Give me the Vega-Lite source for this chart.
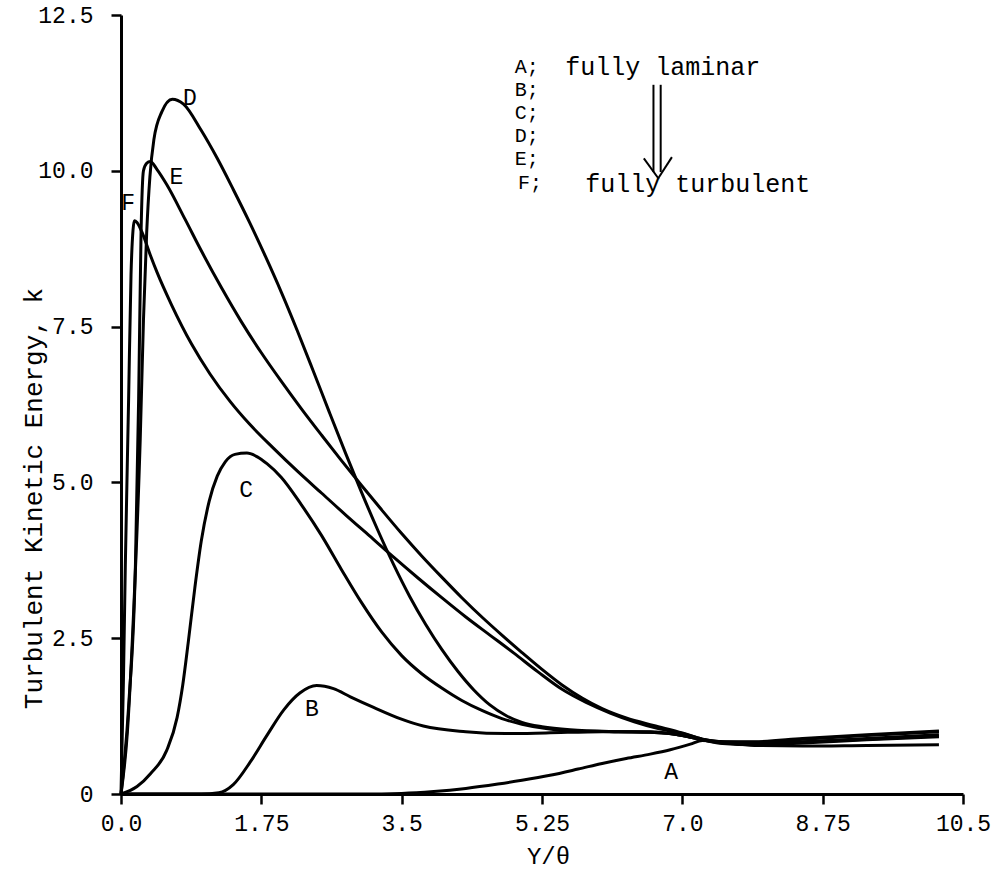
{
  "$schema": "https://vega.github.io/schema/vega-lite/v6.json",
  "width": 842,
  "height": 779,
  "autosize": {"type": "none"},
  "padding": {"left": 121, "top": 15, "right": 33, "bottom": 77},
  "background": "white",
  "config": {
    "font": "Liberation Mono",
    "view": {"stroke": null},
    "axis": {
      "grid": false,
      "domainColor": "black",
      "domainWidth": 3,
      "tickColor": "black",
      "tickWidth": 2.5,
      "tickSize": 10,
      "labelColor": "black",
      "titleColor": "black",
      "labelFont": "Liberation Mono",
      "titleFont": "Liberation Mono",
      "titleFontWeight": "normal",
      "labelOverlap": false
    }
  },
  "datasets": {
    "curves": [
      {"curve": "A", "x": 0, "y": 0}, {"curve": "A", "x": 1.5, "y": 0}, {"curve": "A", "x": 3.0, "y": 0}, {"curve": "A", "x": 3.5, "y": 0.01}, {"curve": "A", "x": 3.9, "y": 0.04}, {"curve": "A", "x": 4.3, "y": 0.09}, {"curve": "A", "x": 4.7, "y": 0.16}, {"curve": "A", "x": 5.0, "y": 0.22}, {"curve": "A", "x": 5.35, "y": 0.3}, {"curve": "A", "x": 5.7, "y": 0.4}, {"curve": "A", "x": 6.0, "y": 0.49}, {"curve": "A", "x": 6.3, "y": 0.57}, {"curve": "A", "x": 6.6, "y": 0.64}, {"curve": "A", "x": 6.85, "y": 0.71}, {"curve": "A", "x": 7.1, "y": 0.8}, {"curve": "A", "x": 7.25, "y": 0.86}, {"curve": "A", "x": 7.5, "y": 0.83}, {"curve": "A", "x": 7.9, "y": 0.78}, {"curve": "A", "x": 8.5, "y": 0.77}, {"curve": "A", "x": 9.3, "y": 0.78}, {"curve": "A", "x": 10.2, "y": 0.79},

      {"curve": "B", "x": 0, "y": 0}, {"curve": "B", "x": 1.0, "y": 0}, {"curve": "B", "x": 1.22, "y": 0.02}, {"curve": "B", "x": 1.4, "y": 0.15}, {"curve": "B", "x": 1.61, "y": 0.51}, {"curve": "B", "x": 1.82, "y": 0.94}, {"curve": "B", "x": 2.03, "y": 1.35}, {"curve": "B", "x": 2.23, "y": 1.62}, {"curve": "B", "x": 2.44, "y": 1.74}, {"curve": "B", "x": 2.65, "y": 1.69}, {"curve": "B", "x": 2.86, "y": 1.56}, {"curve": "B", "x": 3.15, "y": 1.39}, {"curve": "B", "x": 3.48, "y": 1.21}, {"curve": "B", "x": 3.77, "y": 1.09}, {"curve": "B", "x": 4.3, "y": 1.0}, {"curve": "B", "x": 4.8, "y": 0.97}, {"curve": "B", "x": 5.3, "y": 0.98}, {"curve": "B", "x": 6.0, "y": 1.0}, {"curve": "B", "x": 6.6, "y": 1.0}, {"curve": "B", "x": 7.0, "y": 0.94}, {"curve": "B", "x": 7.25, "y": 0.87}, {"curve": "B", "x": 7.5, "y": 0.83}, {"curve": "B", "x": 7.9, "y": 0.81}, {"curve": "B", "x": 8.5, "y": 0.84}, {"curve": "B", "x": 9.3, "y": 0.89}, {"curve": "B", "x": 10.2, "y": 0.95},

      {"curve": "C", "x": 0, "y": 0}, {"curve": "C", "x": 0.2, "y": 0.12}, {"curve": "C", "x": 0.37, "y": 0.33}, {"curve": "C", "x": 0.57, "y": 0.7}, {"curve": "C", "x": 0.7, "y": 1.23}, {"curve": "C", "x": 0.77, "y": 1.75}, {"curve": "C", "x": 0.84, "y": 2.45}, {"curve": "C", "x": 0.92, "y": 3.3}, {"curve": "C", "x": 1.0, "y": 4.05}, {"curve": "C", "x": 1.1, "y": 4.7}, {"curve": "C", "x": 1.2, "y": 5.1}, {"curve": "C", "x": 1.3, "y": 5.33}, {"curve": "C", "x": 1.42, "y": 5.45}, {"curve": "C", "x": 1.57, "y": 5.47}, {"curve": "C", "x": 1.7, "y": 5.41}, {"curve": "C", "x": 1.82, "y": 5.3}, {"curve": "C", "x": 2.0, "y": 5.08}, {"curve": "C", "x": 2.25, "y": 4.64}, {"curve": "C", "x": 2.5, "y": 4.15}, {"curve": "C", "x": 2.75, "y": 3.6}, {"curve": "C", "x": 3.0, "y": 3.07}, {"curve": "C", "x": 3.25, "y": 2.6}, {"curve": "C", "x": 3.5, "y": 2.22}, {"curve": "C", "x": 3.75, "y": 1.93}, {"curve": "C", "x": 4.0, "y": 1.7}, {"curve": "C", "x": 4.25, "y": 1.5}, {"curve": "C", "x": 4.5, "y": 1.34}, {"curve": "C", "x": 4.75, "y": 1.21}, {"curve": "C", "x": 5.0, "y": 1.12}, {"curve": "C", "x": 5.3, "y": 1.05}, {"curve": "C", "x": 5.7, "y": 1.01}, {"curve": "C", "x": 6.2, "y": 1.0}, {"curve": "C", "x": 6.6, "y": 0.99}, {"curve": "C", "x": 7.0, "y": 0.94}, {"curve": "C", "x": 7.25, "y": 0.87}, {"curve": "C", "x": 7.5, "y": 0.82}, {"curve": "C", "x": 7.9, "y": 0.8}, {"curve": "C", "x": 8.5, "y": 0.83}, {"curve": "C", "x": 9.3, "y": 0.88}, {"curve": "C", "x": 10.2, "y": 0.93},

      {"curve": "D", "x": 0, "y": 0}, {"curve": "D", "x": 0.08, "y": 1.0}, {"curve": "D", "x": 0.16, "y": 3.0}, {"curve": "D", "x": 0.24, "y": 5.7}, {"curve": "D", "x": 0.28, "y": 7.6}, {"curve": "D", "x": 0.32, "y": 9.0}, {"curve": "D", "x": 0.36, "y": 9.9}, {"curve": "D", "x": 0.41, "y": 10.5}, {"curve": "D", "x": 0.51, "y": 10.95}, {"curve": "D", "x": 0.64, "y": 11.15}, {"curve": "D", "x": 0.78, "y": 11.07}, {"curve": "D", "x": 1.0, "y": 10.65}, {"curve": "D", "x": 1.2, "y": 10.2}, {"curve": "D", "x": 1.4, "y": 9.7}, {"curve": "D", "x": 1.6, "y": 9.18}, {"curve": "D", "x": 1.8, "y": 8.63}, {"curve": "D", "x": 2.0, "y": 8.05}, {"curve": "D", "x": 2.2, "y": 7.43}, {"curve": "D", "x": 2.4, "y": 6.78}, {"curve": "D", "x": 2.6, "y": 6.12}, {"curve": "D", "x": 2.8, "y": 5.47}, {"curve": "D", "x": 3.0, "y": 4.84}, {"curve": "D", "x": 3.2, "y": 4.24}, {"curve": "D", "x": 3.4, "y": 3.68}, {"curve": "D", "x": 3.6, "y": 3.17}, {"curve": "D", "x": 3.8, "y": 2.72}, {"curve": "D", "x": 4.0, "y": 2.32}, {"curve": "D", "x": 4.2, "y": 1.97}, {"curve": "D", "x": 4.4, "y": 1.67}, {"curve": "D", "x": 4.6, "y": 1.43}, {"curve": "D", "x": 4.8, "y": 1.26}, {"curve": "D", "x": 5.0, "y": 1.15}, {"curve": "D", "x": 5.25, "y": 1.08}, {"curve": "D", "x": 5.6, "y": 1.03}, {"curve": "D", "x": 6.2, "y": 1.0}, {"curve": "D", "x": 6.6, "y": 0.99}, {"curve": "D", "x": 7.0, "y": 0.94}, {"curve": "D", "x": 7.25, "y": 0.87}, {"curve": "D", "x": 7.5, "y": 0.81}, {"curve": "D", "x": 7.9, "y": 0.79}, {"curve": "D", "x": 8.5, "y": 0.82}, {"curve": "D", "x": 9.3, "y": 0.87}, {"curve": "D", "x": 10.2, "y": 0.92},

      {"curve": "E", "x": 0, "y": 0}, {"curve": "E", "x": 0.1, "y": 1.5}, {"curve": "E", "x": 0.18, "y": 3.68}, {"curve": "E", "x": 0.22, "y": 6.34}, {"curve": "E", "x": 0.25, "y": 9.0}, {"curve": "E", "x": 0.28, "y": 10.0}, {"curve": "E", "x": 0.32, "y": 10.12}, {"curve": "E", "x": 0.365, "y": 10.15}, {"curve": "E", "x": 0.45, "y": 10.02}, {"curve": "E", "x": 0.57, "y": 9.78}, {"curve": "E", "x": 0.8, "y": 9.22}, {"curve": "E", "x": 1.0, "y": 8.72}, {"curve": "E", "x": 1.25, "y": 8.13}, {"curve": "E", "x": 1.5, "y": 7.58}, {"curve": "E", "x": 1.75, "y": 7.08}, {"curve": "E", "x": 2.0, "y": 6.62}, {"curve": "E", "x": 2.25, "y": 6.18}, {"curve": "E", "x": 2.5, "y": 5.76}, {"curve": "E", "x": 2.75, "y": 5.35}, {"curve": "E", "x": 3.0, "y": 4.95}, {"curve": "E", "x": 3.25, "y": 4.56}, {"curve": "E", "x": 3.5, "y": 4.18}, {"curve": "E", "x": 3.75, "y": 3.82}, {"curve": "E", "x": 4.0, "y": 3.48}, {"curve": "E", "x": 4.25, "y": 3.15}, {"curve": "E", "x": 4.5, "y": 2.84}, {"curve": "E", "x": 4.75, "y": 2.55}, {"curve": "E", "x": 5.0, "y": 2.27}, {"curve": "E", "x": 5.25, "y": 2.0}, {"curve": "E", "x": 5.5, "y": 1.75}, {"curve": "E", "x": 5.75, "y": 1.54}, {"curve": "E", "x": 6.0, "y": 1.37}, {"curve": "E", "x": 6.3, "y": 1.22}, {"curve": "E", "x": 6.64, "y": 1.1}, {"curve": "E", "x": 7.0, "y": 0.98}, {"curve": "E", "x": 7.25, "y": 0.88}, {"curve": "E", "x": 7.5, "y": 0.84}, {"curve": "E", "x": 7.9, "y": 0.83}, {"curve": "E", "x": 8.5, "y": 0.88}, {"curve": "E", "x": 9.3, "y": 0.94}, {"curve": "E", "x": 10.2, "y": 1.0},

      {"curve": "F", "x": 0, "y": 0}, {"curve": "F", "x": 0.03, "y": 1.8}, {"curve": "F", "x": 0.054, "y": 3.68}, {"curve": "F", "x": 0.095, "y": 6.34}, {"curve": "F", "x": 0.125, "y": 8.34}, {"curve": "F", "x": 0.15, "y": 9.05}, {"curve": "F", "x": 0.166, "y": 9.2}, {"curve": "F", "x": 0.2, "y": 9.17}, {"curve": "F", "x": 0.26, "y": 9.02}, {"curve": "F", "x": 0.365, "y": 8.65}, {"curve": "F", "x": 0.45, "y": 8.37}, {"curve": "F", "x": 0.63, "y": 7.85}, {"curve": "F", "x": 0.88, "y": 7.22}, {"curve": "F", "x": 1.11, "y": 6.74}, {"curve": "F", "x": 1.36, "y": 6.3}, {"curve": "F", "x": 1.6, "y": 5.94}, {"curve": "F", "x": 1.9, "y": 5.55}, {"curve": "F", "x": 2.2, "y": 5.18}, {"curve": "F", "x": 2.5, "y": 4.83}, {"curve": "F", "x": 2.8, "y": 4.48}, {"curve": "F", "x": 3.1, "y": 4.14}, {"curve": "F", "x": 3.4, "y": 3.8}, {"curve": "F", "x": 3.7, "y": 3.47}, {"curve": "F", "x": 4.0, "y": 3.15}, {"curve": "F", "x": 4.3, "y": 2.84}, {"curve": "F", "x": 4.6, "y": 2.55}, {"curve": "F", "x": 4.9, "y": 2.26}, {"curve": "F", "x": 5.2, "y": 1.96}, {"curve": "F", "x": 5.5, "y": 1.68}, {"curve": "F", "x": 5.8, "y": 1.47}, {"curve": "F", "x": 6.1, "y": 1.3}, {"curve": "F", "x": 6.4, "y": 1.16}, {"curve": "F", "x": 6.7, "y": 1.05}, {"curve": "F", "x": 7.0, "y": 0.97}, {"curve": "F", "x": 7.25, "y": 0.88}, {"curve": "F", "x": 7.5, "y": 0.84}, {"curve": "F", "x": 7.9, "y": 0.84}, {"curve": "F", "x": 8.5, "y": 0.89}, {"curve": "F", "x": 9.3, "y": 0.95}, {"curve": "F", "x": 10.2, "y": 1.01}
    ],
    "labels": [
      {"x": 6.86, "y": 0.35, "t": "A"},
      {"x": 2.38, "y": 1.36, "t": "B"},
      {"x": 1.56, "y": 4.88, "t": "C"},
      {"x": 0.86, "y": 11.17, "t": "D"},
      {"x": 0.69, "y": 9.9, "t": "E"},
      {"x": 0.09, "y": 9.49, "t": "F"}
    ],
    "keys": [
      {"x": 4.91, "y": 11.67, "t": "A;"},
      {"x": 4.91, "y": 11.29, "t": "B;"},
      {"x": 4.91, "y": 10.93, "t": "C;"},
      {"x": 4.91, "y": 10.56, "t": "D;"},
      {"x": 4.91, "y": 10.19, "t": "E;"},
      {"x": 4.95, "y": 9.8, "t": "F;"}
    ],
    "phrases": [
      {"x": 5.54, "y": 11.67, "t": "fully laminar"},
      {"x": 5.79, "y": 9.79, "t": "fully turbulent"}
    ],
    "arrow": [
      {"x": 6.64, "y": 11.38, "x2": 6.64, "y2": 9.98},
      {"x": 6.73, "y": 11.38, "x2": 6.73, "y2": 9.98},
      {"x": 6.52, "y": 10.2, "x2": 6.7, "y2": 9.88},
      {"x": 6.87, "y": 10.22, "x2": 6.7, "y2": 9.88}
    ]
  },
  "encoding": {
    "x": {
      "field": "x",
      "type": "quantitative",
      "scale": {"domain": [0, 10.5], "nice": false, "zero": false},
      "axis": {
        "title": "Y/θ",
        "values": [0, 1.75, 3.5, 5.25, 7, 8.75, 10.5],
        "labelExpr": "datum.value % 3.5 == 0 ? format(datum.value, '.1f') : format(datum.value, '.2f')",
        "labelFontSize": 23,
        "labelBaseline": "alphabetic",
        "labelPadding": 26,
        "labelFlush": false,
        "titleFontSize": 24,
        "titleX": 427,
        "titleY": 69,
        "titleBaseline": "alphabetic",
        "titleAlign": "center"
      }
    },
    "y": {
      "field": "y",
      "type": "quantitative",
      "scale": {"domain": [0, 12.5], "nice": false},
      "axis": {
        "title": "Turbulent Kinetic Energy,  k",
        "values": [0, 2.5, 5, 7.5, 10, 12.5],
        "labelExpr": "datum.value == 0 ? '0' : format(datum.value, '.1f')",
        "labelFontSize": 23,
        "labelPadding": 18,
        "titleFontSize": 26,
        "titleAngle": -90,
        "titleX": -80,
        "titleY": 483,
        "titleBaseline": "alphabetic",
        "titleAlign": "center"
      }
    }
  },
  "layer": [
    {
      "data": {"name": "curves"},
      "mark": {"type": "line", "color": "black", "strokeWidth": 3, "interpolate": "monotone"},
      "encoding": {"detail": {"field": "curve", "type": "nominal"}}
    },
    {
      "data": {"name": "labels"},
      "mark": {"type": "text", "fontSize": 23, "color": "black", "align": "center", "baseline": "middle"},
      "encoding": {"text": {"field": "t", "type": "nominal"}}
    },
    {
      "data": {"name": "keys"},
      "mark": {"type": "text", "fontSize": 20, "color": "black", "align": "left", "baseline": "middle"},
      "encoding": {"text": {"field": "t", "type": "nominal"}}
    },
    {
      "data": {"name": "phrases"},
      "mark": {"type": "text", "fontSize": 25, "color": "black", "align": "left", "baseline": "middle"},
      "encoding": {"text": {"field": "t", "type": "nominal"}}
    },
    {
      "data": {"name": "arrow"},
      "mark": {"type": "rule", "color": "black", "strokeWidth": 2},
      "encoding": {"x2": {"field": "x2"}, "y2": {"field": "y2"}}
    }
  ]
}
